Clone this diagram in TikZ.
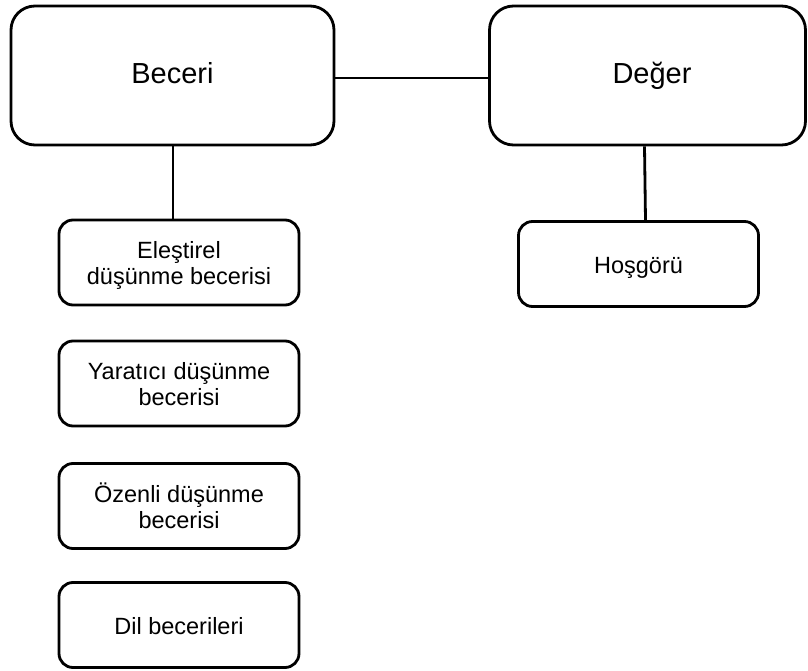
\documentclass[tikz,border=0pt]{standalone}
\usepackage{fontspec}
\setmainfont{Liberation Sans}
\usetikzlibrary{calc}
\begin{document}
\begin{tikzpicture}[x=1pt,y=-1pt,
  bigbox/.style={draw, line width=2.8pt, rounded corners=24pt, align=center,
    minimum width=#1, minimum height=139pt, inner sep=0pt,
    text height=21pt, text depth=4pt,
    font=\fontsize{29}{33}\selectfont},
  smallbox/.style={draw, line width=2.8pt, rounded corners=14pt, align=center,
    minimum width=240pt, minimum height=85pt, inner sep=0pt,
    text depth=0pt, font=\fontsize{23.5}{26}\selectfont},
  oneline/.style={text height=18pt},
  link/.style={line width=2.8pt}]
  \useasboundingbox (0,0) rectangle (808,671);
  % top level
  \node[bigbox=323pt] (beceri) at (172.5,75.5) {Beceri};
  \node[bigbox=316pt] (deger) at (647.5,75.5) {\hspace*{9pt}Değer};
  % skills column
  \node[smallbox] (elestirel) at (179,262.5) {Eleştirel\\düşünme becerisi};
  \node[smallbox] (yaratici) at (179,383.5) {Yaratıcı düşünme\\becerisi};
  \node[smallbox] (ozenli) at (179,506) {Özenli düşünme\\becerisi};
  \node[smallbox, oneline] (dil) at (179,625) {Dil becerileri};
  % values column
  \node[smallbox, oneline] (hosgoru) at (638.5,264) {Hoşgörü};
  % connectors
  \draw[link] ([yshift=-2.5pt]beceri.east) -- ([yshift=-2.5pt]deger.west);
  \draw[link] ([xshift=-6pt]elestirel.north) -- ([xshift=-6pt]elestirel.north |- beceri.south);
  \draw[link] ([xshift=7pt]hosgoru.north) -- ([xshift=6pt]hosgoru.north |- deger.south);
\end{tikzpicture}
\end{document}
